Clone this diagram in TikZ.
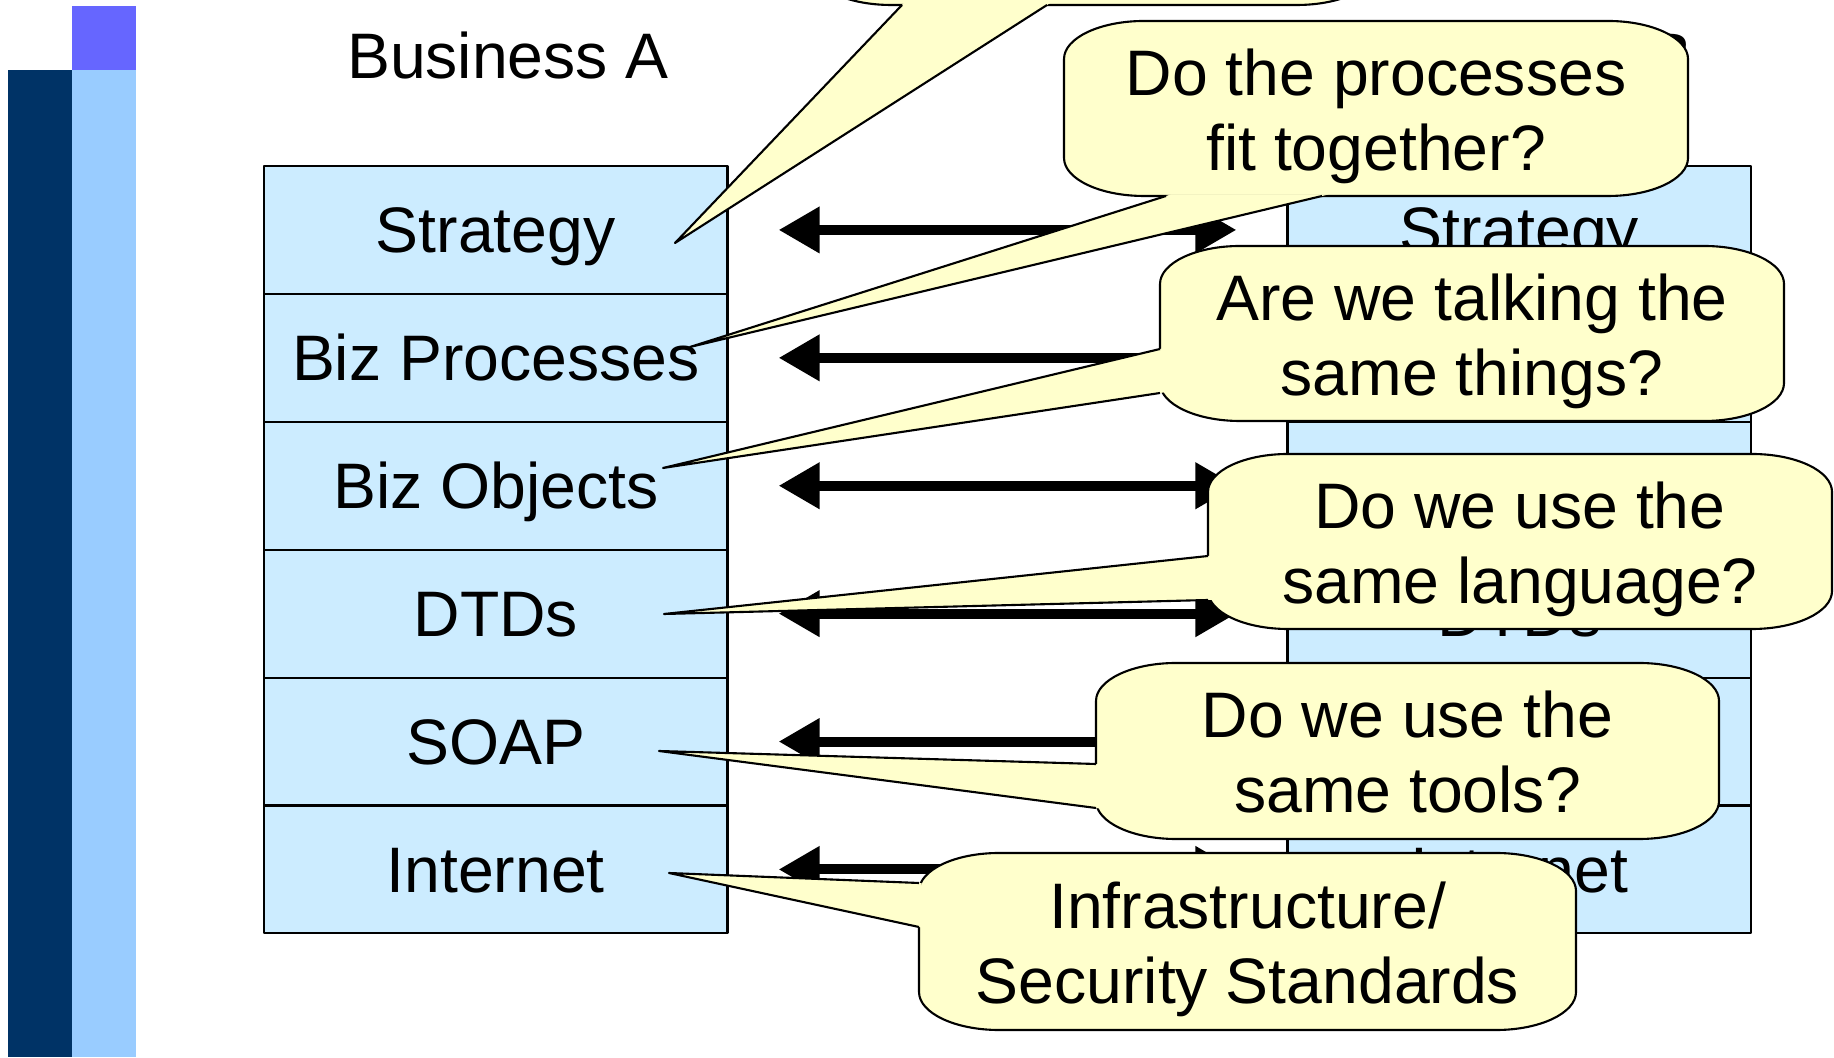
\documentclass[tikz,border=0pt]{standalone}
\usepackage{fontspec}
\setmainfont{Liberation Sans}
\usetikzlibrary{arrows.meta,calc}

\definecolor{layerblue}{HTML}{CCECFF}
\definecolor{noteyellow}{HTML}{FFFFCC}
\definecolor{barnavy}{HTML}{003366}
\definecolor{barlight}{HTML}{99CCFF}
\definecolor{barviolet}{HTML}{6666FF}

\tikzset{
  layer/.style={draw=black,line width=0.6pt,fill=layerblue,minimum width=4.635cm,minimum height=1.279cm,inner sep=0pt,text height=13.1pt,text depth=0pt},
  heading/.style={inner sep=0pt},
  linkarrow/.style={line width=1mm,{Triangle[length=4.1mm,width=4.4mm]}-{Triangle[length=4.1mm,width=4.4mm]},shorten <=5mm,shorten >=5mm},
  bubble/.style={fill=noteyellow,draw=black,line width=0.6pt},
  bubbletext/.style={align=center,inner sep=0pt}
}
\newcommand{\brx}{0.8}
\newcommand{\bry}{0.38}
% callout box: left, bottom, right, top
\newcommand{\bubblebox}[4]{%
  \filldraw[bubble] ({#1+\brx},#2) -- ({#3-\brx},#2)
    arc[start angle=270,end angle=360,x radius=\brx,y radius=\bry]
    -- (#3,{#4-\bry}) arc[start angle=0,end angle=90,x radius=\brx,y radius=\bry]
    -- ({#1+\brx},#4) arc[start angle=90,end angle=180,x radius=\brx,y radius=\bry]
    -- (#1,{#2+\bry}) arc[start angle=180,end angle=270,x radius=\brx,y radius=\bry]
    -- cycle;}
% callout pointer: base, base, tip
\newcommand{\pointer}[3]{%
  \fill[noteyellow] (#3) -- ($(#3)!1.01!(#1)$) -- ($(#3)!1.01!(#2)$) -- cycle;
  \draw[line width=0.6pt] (#1) -- (#3) -- (#2);}

\begin{document}
\begin{tikzpicture}[line join=round,font=\fontsize{18.3pt}{21.3pt}\selectfont]
\useasboundingbox (0,0) rectangle (18.34,10.57);
\clip (0,0) rectangle (18.34,10.57);
% side bars
\fill[barnavy] (0.08,0) rectangle (0.72,9.87);
\fill[barlight] (0.72,0) rectangle (1.36,9.87);
\fill[barviolet] (0.72,9.87) rectangle (1.36,10.51);
\node[heading] (bizA) at (5.08,10.01) {Business A};
\node[heading] (bizB) at (15.315,10.01) {Business B};
% the two stacks
\foreach \lab [count=\i] in {Strategy,Biz Processes,Biz Objects,DTDs,SOAP,Internet}{
  \node[layer] (a\i) at (4.9575,{8.91-(\i-0.5)*1.279}) {\lab};
  \node[layer] (b\i) at (15.1925,{8.91-(\i-0.5)*1.279}) {\lab};
}
\foreach \i in {1,...,6}
  \draw[linkarrow] (a\i) -- (b\i);
% callouts
\coordinate (t1) at (6.75,8.14);
\coordinate (t2) at (6.90,7.10);
\coordinate (t3) at (6.63,5.89);
\coordinate (t4) at (6.64,4.43);
\coordinate (t5) at (6.59,3.06);
\coordinate (t6) at (6.69,1.84);
\bubblebox{8.11}{10.52}{13.77}{12.27}
\coordinate (s1a) at (9.02,10.52);
\coordinate (s1b) at (10.47,10.52);
\pointer{s1a}{s1b}{t1}
\bubblebox{10.64}{8.61}{16.88}{10.36}
\coordinate (s2a) at (11.66,8.61);
\coordinate (s2b) at (13.22,8.61);
\pointer{s2a}{s2b}{t2}
\node[bubbletext] (qfit) at (13.76,9.405) {Do the processes\\fit together?};
\bubblebox{11.60}{6.36}{17.84}{8.11}
\coordinate (s3a) at (11.60,7.08);
\coordinate (s3b) at (11.60,6.64);
\pointer{s3a}{s3b}{t3}
\node[bubbletext] (qthings) at (14.72,7.155) {Are we talking the\\same things?};
\bubblebox{12.08}{4.28}{18.32}{6.03}
\coordinate (s4a) at (12.08,5.01);
\coordinate (s4b) at (12.08,4.57);
\pointer{s4a}{s4b}{t4}
\node[bubbletext] (qlang) at (15.20,5.08) {Do we use the\\same language?};
\bubblebox{10.96}{2.18}{17.19}{3.94}
\coordinate (s5a) at (10.96,2.93);
\coordinate (s5b) at (10.96,2.49);
\pointer{s5a}{s5b}{t5}
\node[bubbletext] (qtools) at (14.075,3.05) {Do we use the\\same tools?};
\bubblebox{9.19}{0.27}{15.76}{2.04}
\coordinate (s6a) at (9.19,1.74);
\coordinate (s6b) at (9.19,1.30);
\pointer{s6a}{s6b}{t6}
\node[bubbletext] (qinfra) at (12.475,1.075) {Infrastructure/\\Security Standards};
\end{tikzpicture}
\end{document}
